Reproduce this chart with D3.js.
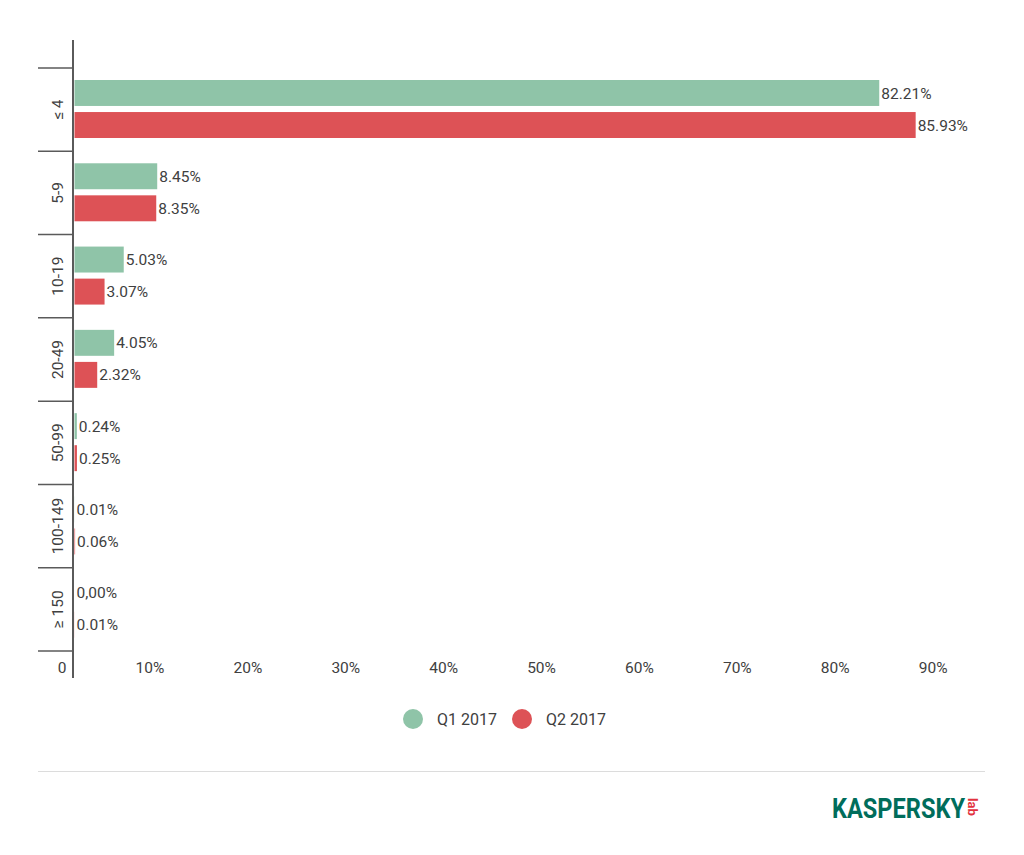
<!DOCTYPE html>
<html>
<head>
<meta charset="utf-8">
<script src="https://cdn.jsdelivr.net/npm/d3@7"></script>
<style>
  body { margin: 0; background: #fff; }
  text { font-family: Roboto, "Noto Sans", sans-serif; fill: #404040; }
</style>
</head>
<body>
<div class="chart"></div>
<script>
const SVG_WIDTH = 1024;
const SVG_HEIGHT = 855;

const categories = ['≤ 4', '5-9', '10-19', '20-49', '50-99', '100-149', '≥ 150'];
const seriesNames = ['Q1 2017', 'Q2 2017'];
const q1Values = [82.21, 8.45, 5.03, 4.05, 0.24, 0.01, 0.00];
const q2Values = [85.93, 8.35, 3.07, 2.32, 0.25, 0.06, 0.01];
const q1Labels = ['82.21%', '8.45%', '5.03%', '4.05%', '0.24%', '0.01%', '0,00%'];
const q2Labels = ['85.93%', '8.35%', '3.07%', '2.32%', '0.25%', '0.06%', '0.01%'];
const xTicks = [0, 10, 20, 30, 40, 50, 60, 70, 80, 90];
const xTickLabels = ['0', '10%', '20%', '30%', '40%', '50%', '60%', '70%', '80%', '90%'];

const COLORS = ['#8fc4a8', '#dd5256'];

const svg = d3.select('.chart')
  .append('svg')
  .attr('width', SVG_WIDTH)
  .attr('height', SVG_HEIGHT);

// scales
const xscale = d3.scaleLinear()
  .domain([0, 90])
  .range([74.5, 955.5]);

const yscale = d3.scaleBand()
  .domain(categories)
  .range([68, 651]);

const inner = d3.scaleBand()
  .domain(seriesNames)
  .range([12, 70])
  .paddingInner(0.19);

const rows = categories.map((c, i) => ({
  category: c,
  bars: [
    { series: seriesNames[0], value: q1Values[i], label: q1Labels[i] },
    { series: seriesNames[1], value: q2Values[i], label: q2Labels[i] }
  ]
}));

// bars
const groups = svg.append('g')
  .selectAll('g')
  .data(rows)
  .join('g')
  .attr('transform', d => `translate(0, ${yscale(d.category)})`);

groups.selectAll('rect')
  .data(d => d.bars)
  .join('rect')
  .attr('x', xscale(0))
  .attr('y', d => inner(d.series))
  .attr('width', d => xscale(d.value) - xscale(0))
  .attr('height', inner.bandwidth())
  .attr('fill', (d, i) => COLORS[i]);

groups.selectAll('text')
  .data(d => d.bars)
  .join('text')
  .attr('x', d => xscale(d.value) + 2)
  .attr('y', d => inner(d.series) + inner.bandwidth() / 2)
  .attr('dy', '0.36em')
  .attr('font-size', 15.5)
  .text(d => d.label);

// category axis
const yAxis = svg.append('g');

yAxis.selectAll('line.tick')
  .data(yscale.domain().map(c => yscale(c)).concat([yscale.range()[1]]))
  .join('line')
  .attr('class', 'tick')
  .attr('x1', 38)
  .attr('x2', 73)
  .attr('y1', d => d)
  .attr('y2', d => d)
  .attr('stroke', '#5a5a5a')
  .attr('stroke-width', 1.5);

yAxis.append('line')
  .attr('x1', 73)
  .attr('x2', 73)
  .attr('y1', 40)
  .attr('y2', 678)
  .attr('stroke', '#5a5a5a')
  .attr('stroke-width', 2);

yAxis.selectAll('text')
  .data(categories)
  .join('text')
  .attr('transform', d => `translate(57, ${yscale(d) + yscale.bandwidth() / 2}) rotate(-90)`)
  .attr('text-anchor', 'middle')
  .attr('dy', '0.36em')
  .attr('font-size', 15.5)
  .text(d => d);

// value axis labels
svg.append('g')
  .selectAll('text')
  .data(xTicks)
  .join('text')
  .attr('x', d => xscale(d) - 8)
  .attr('y', 667)
  .attr('dy', '0.36em')
  .attr('text-anchor', 'end')
  .attr('font-size', 15.5)
  .text((d, i) => xTickLabels[i]);

// legend
const legendX = [413, 522];
const legend = svg.append('g')
  .selectAll('g')
  .data(seriesNames)
  .join('g')
  .attr('transform', (d, i) => `translate(${legendX[i]}, 719)`);

legend.append('circle')
  .attr('r', 10)
  .attr('fill', (d, i) => COLORS[i]);

legend.append('text')
  .attr('x', 24)
  .attr('dy', '0.36em')
  .attr('font-size', 16)
  .text(d => d);

// separator
svg.append('line')
  .attr('x1', 38)
  .attr('x2', 985)
  .attr('y1', 771.5)
  .attr('y2', 771.5)
  .attr('stroke', '#dcdcdc')
  .attr('stroke-width', 1);

// logo
svg.append('text')
  .attr('x', 832)
  .attr('y', 818)
  .attr('font-size', 27)
  .attr('font-weight', 700)
  .attr('textLength', 133)
  .attr('lengthAdjust', 'spacingAndGlyphs')
  .style('fill', '#006d5b')
  .text('KASPERSKY');

svg.append('text')
  .attr('transform', 'translate(968, 798) rotate(90)')
  .attr('font-size', 13)
  .attr('font-weight', 700)
  .style('fill', '#e2323e')
  .text('lab');
</script>
</body>
</html>
